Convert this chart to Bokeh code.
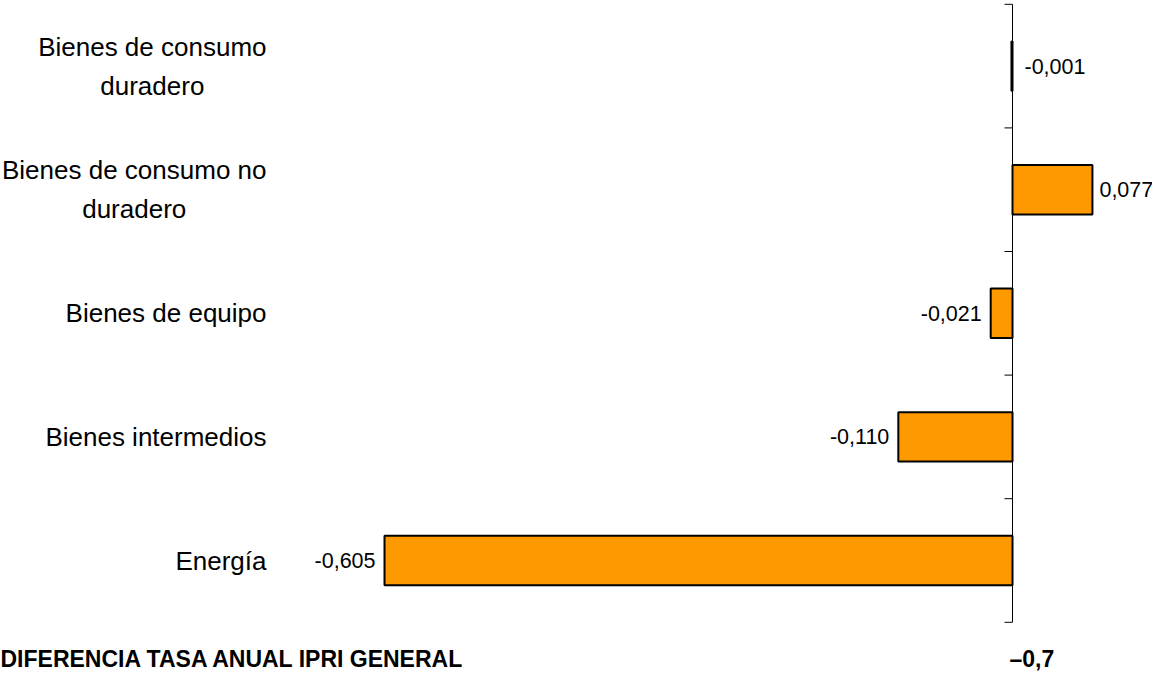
from bokeh.plotting import figure
from bokeh.models import Range1d, ColumnDataSource
from bokeh.core.properties import value
from bokeh.embed import file_html
from bokeh.resources import INLINE

# ---------------- data ----------------
categories = ["Energía", "Bienes intermedios", "Bienes de equipo",
              "Bienes de consumo no duradero", "Bienes de consumo duradero"]
category_labels = ["Energía", "Bienes intermedios", "Bienes de equipo",
                   "Bienes de consumo no\nduradero", "Bienes de consumo\nduradero"]
values = [-0.605, -0.110, -0.021, 0.077, -0.001]
total_label = "DIFERENCIA TASA ANUAL IPRI GENERAL"
total_value = -0.7

# ---------------- layout constants ----------------
W, H = 1152, 672
ZERO_PX = 1012          # canvas x of the zero line
PX_PER_UNIT = 1038.0
BAND_PX = 123.6
FIRST_CENTER_PX = 560   # canvas y of first category centre
LABEL_RIGHT_PX = 266
TICK_PX = 8
FONT = "Liberation Sans"

X0 = -ZERO_PX / PX_PER_UNIT
X1 = (W - ZERO_PX) / PX_PER_UNIT
Y_TOP = FIRST_CENTER_PX / BAND_PX
Y_BOT = -(H - FIRST_CENTER_PX) / BAND_PX

def px_x(px):
    return X0 + px / PX_PER_UNIT

def px_y(px):
    return Y_TOP - px / BAND_PX

def fmt(v):
    return f"{v:.3f}".replace(".", ",")

n = len(categories)
idx = list(range(n))

p = figure(width=W, height=H, output_backend="svg", toolbar_location=None,
           x_axis_location=None, y_axis_location=None, title=None,
           x_range=Range1d(X0, X1), y_range=Range1d(Y_BOT, Y_TOP),
           min_border=0, outline_line_color=None,
           background_fill_color="white", border_fill_color="white")
p.grid.grid_line_color = None
p.grid.visible = False

# bars
src = ColumnDataSource(dict(y=idx, v=values))
p.hbar(y="y", left=0, right="v", height=0.4, source=src,
       fill_color="#FF9900", line_color="black", line_width=2)

# vertical axis at zero with ticks at category boundaries
p.segment(x0=[0], y0=[-0.5], x1=[0], y1=[n - 0.5], line_color="black", line_width=1)
bounds = [k - 0.5 for k in range(n + 1)]
p.segment(x0=[-TICK_PX / PX_PER_UNIT] * len(bounds), y0=bounds,
          x1=[0] * len(bounds), y1=bounds, line_color="black", line_width=1)

# value labels
near_zero = [abs(v) < 0.005 for v in values]
lab_x = [max(v, 0) if (nz or v >= 0) else v for v, nz in zip(values, near_zero)]
lab_align = ["left" if (nz or v >= 0) else "right" for v, nz in zip(values, near_zero)]
lab_off = [(12 if nz else 7) if a == "left" else -9
           for a, nz in zip(lab_align, near_zero)]
lsrc = ColumnDataSource(dict(x=lab_x, y=idx, t=[fmt(v) for v in values],
                             a=lab_align, o=lab_off))
p.text(x="x", y="y", text="t", x_offset="o", text_align="a", source=lsrc,
       text_baseline="middle", text_font=value(FONT), text_font_size="21.5px",
       text_color="black")

# category labels
csrc = ColumnDataSource(dict(x=[px_x(LABEL_RIGHT_PX)] * n, y=idx, t=category_labels))
p.text(x="x", y="y", text="t", source=csrc, anchor="center_right",
       text_align="center", text_baseline="middle", text_line_height=1.3,
       text_font=value(FONT), text_font_size="26px", text_color="black")

# total line at the bottom
total_text = ("–" + f"{abs(total_value):.1f}").replace(".", ",")
p.text(x=[px_x(0), px_x(1009)], y=[px_y(671)] * 2, text=[total_label, total_text],
       text_align="left", text_baseline="bottom", text_font=value(FONT),
       text_font_size="23px", text_font_style="bold", text_color="black")

open("out.html", "w").write(file_html(p, INLINE))
